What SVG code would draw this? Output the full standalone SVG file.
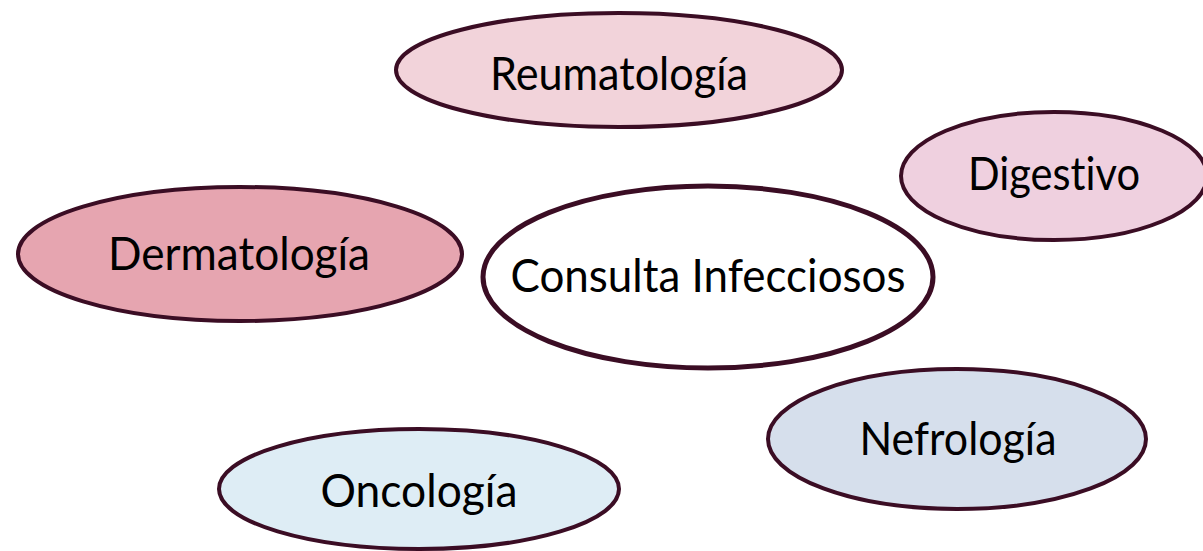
<svg xmlns="http://www.w3.org/2000/svg" width="1203" height="551" viewBox="0 0 1203 551">
<style>
  .n ellipse { stroke: #3b0d24; stroke-width: 4; }
  .n text { font-family: Lato, "Open Sans", sans-serif; font-size: 46px; fill: #000; text-anchor: middle; font-variant-ligatures: none; font-feature-settings: "liga" 0, "clig" 0; }
  #consulta ellipse { stroke-width: 5; }
</style>
<rect width="1203" height="551" fill="#fff"/>
<g id="connectors"></g>
<g id="reumatologia" class="n">
  <ellipse cx="619" cy="70" rx="223" ry="57" fill="#f2d3da"/>
  <text x="619" y="90" textLength="258" lengthAdjust="spacingAndGlyphs">Reumatología</text>
</g>
<g id="digestivo" class="n">
  <ellipse cx="1054" cy="176" rx="153" ry="64" fill="#efd0df"/>
  <text x="1054" y="190" textLength="172" lengthAdjust="spacingAndGlyphs">Digestivo</text>
</g>
<g id="dermatologia" class="n">
  <ellipse cx="240" cy="254" rx="222" ry="67" fill="#e6a5b0"/>
  <text x="239" y="270" textLength="262" lengthAdjust="spacingAndGlyphs">Dermatología</text>
</g>
<g id="consulta" class="n">
  <ellipse cx="708" cy="277" rx="225" ry="91" fill="#ffffff"/>
  <text x="708" y="292" textLength="395" lengthAdjust="spacingAndGlyphs">Consulta Infecciosos</text>
</g>
<g id="nefrologia" class="n">
  <ellipse cx="957" cy="439" rx="189" ry="70" fill="#d6dfec"/>
  <text x="958" y="455" textLength="197" lengthAdjust="spacingAndGlyphs">Nefrología</text>
</g>
<g id="oncologia" class="n">
  <ellipse cx="419" cy="489" rx="200" ry="60" fill="#deedf5"/>
  <text x="419" y="507" textLength="197" lengthAdjust="spacingAndGlyphs">Oncología</text>
</g>
</svg>
